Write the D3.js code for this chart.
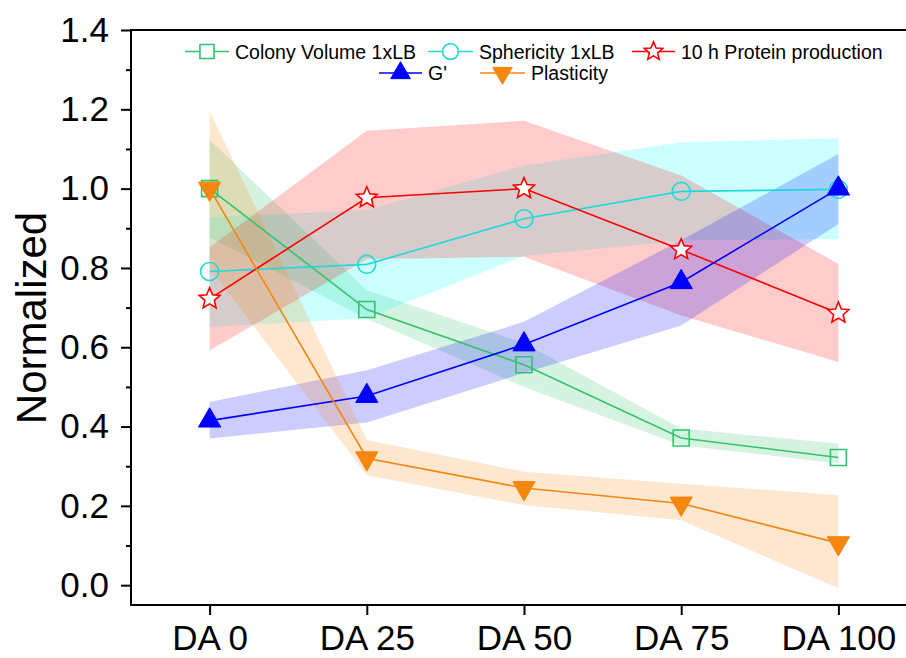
<!DOCTYPE html>
<html>
<head>
<meta charset="utf-8">
<script src="https://cdn.jsdelivr.net/npm/d3@7"></script>
<style>
  body { margin: 0; background: #fff; }
  svg { display: block; }
</style>
</head>
<body>
<script>
'use strict';

// categories and tick labels
const categories = ["DA 0", "DA 25", "DA 50", "DA 75", "DA 100"];
const yTicks = [0.0, 0.2, 0.4, 0.6, 0.8, 1.0, 1.2, 1.4];
const yMinorTicks = [0.1, 0.3, 0.5, 0.7, 0.9, 1.1, 1.3];

// Colony Volume 1xLB
const colonyMean = [1.0, 0.695, 0.556, 0.371, 0.322];
const colonyLow = [0.877, 0.672, 0.50, 0.353, 0.307];
const colonyHigh = [1.123, 0.744, 0.61, 0.395, 0.357];

// Sphericity 1xLB
const spherMean = [0.791, 0.809, 0.924, 0.993, 0.998];
const spherLow = [0.651, 0.673, 0.83, 0.869, 0.873];
const spherHigh = [0.928, 0.946, 1.058, 1.117, 1.127];

// 10 h Protein production
const proteinMean = [0.722, 0.977, 1.0, 0.846, 0.686];
const proteinLow = [0.592, 0.822, 0.828, 0.68, 0.563];
const proteinHigh = [0.852, 1.146, 1.171, 1.033, 0.81];

// G'
const gMean = [0.415, 0.477, 0.607, 0.764, 1.0];
const gLow = [0.37, 0.41, 0.535, 0.655, 0.911];
const gHigh = [0.462, 0.542, 0.664, 0.87, 1.087];

// Plasticity
const plastMean = [1.0, 0.32, 0.245, 0.206, 0.106];
const plastLow = [0.80, 0.277, 0.202, 0.164, -0.008];
const plastHigh = [1.196, 0.366, 0.286, 0.256, 0.227];

(function() {

  let svgContainer = "";

  window.onload = function() {
    svgContainer = d3.select('body')
      .append('svg')
      .attr('width', 906)
      .attr('height', 658);

    let series = [
      { name: "Colony Volume 1xLB", mean: colonyMean, low: colonyLow, high: colonyHigh,
        color: "#33c46a", band: "rgba(51,196,106,0.2)", marker: "square", fill: "none" },
      { name: "Sphericity 1xLB", mean: spherMean, low: spherLow, high: spherHigh,
        color: "#20dada", band: "rgba(0,255,255,0.2)", marker: "circle", fill: "none" },
      { name: "10 h Protein production", mean: proteinMean, low: proteinLow, high: proteinHigh,
        color: "#ff0000", band: "rgba(255,0,0,0.2)", marker: "star", fill: "#fff" },
      { name: "G'", mean: gMean, low: gLow, high: gHigh,
        color: "#0000ff", band: "rgba(0,0,255,0.2)", marker: "up", fill: "#0000ff" },
      { name: "Plasticity", mean: plastMean, low: plastLow, high: plastHigh,
        color: "#f5860f", band: "rgba(245,134,15,0.2)", marker: "down", fill: "#f5860f" }
    ];

    let scales = drawAxes();
    plotData(series, scales);
    drawFrame(scales);
    makeLegend(series);
    makeLabels();
  }

  // marker shape path for each series type
  function markerPath(type, big) {
    let k = big ? 1 : 0.88;
    if (type == "square") return d3.symbol(d3.symbolSquare, 256 * k * k)();
    if (type == "circle") return d3.symbol(d3.symbolCircle, 254 * k * k)();
    if (type == "up" || type == "down") return d3.symbol(d3.symbolTriangle, 215 * k * k)();
    // five point star
    let outer = 11 * k, inner = 5 * k;
    let pts = d3.range(10).map(function(i) {
      return [i * Math.PI / 5, i % 2 == 0 ? outer : inner];
    });
    return d3.lineRadial().curve(d3.curveLinearClosed)(pts);
  }

  function drawAxes() {
    let xScale = d3.scaleLinear()
      .domain([-0.5, 4.5])
      .range([131, 917]);

    let yScale = d3.scaleLinear()
      .domain([-0.05, 1.4])
      .range([605, 30]);

    // y axis major ticks
    let yAxis = d3.axisLeft(yScale)
      .tickValues(yTicks)
      .tickFormat(d3.format(".1f"))
      .tickSize(10)
      .tickSizeOuter(0)
      .tickPadding(12);
    let yg = svgContainer.append('g')
      .attr('transform', 'translate(131, 0)')
      .call(yAxis);
    yg.select('.domain').remove();
    yg.selectAll('line').attr('stroke', '#000').attr('stroke-width', 2);
    yg.selectAll('text')
      .style('font-family', 'Arial, "Liberation Sans", sans-serif')
      .style('font-size', '35px')
      .attr('fill', '#000');

    // y axis minor ticks
    let yMinor = d3.axisLeft(yScale)
      .tickValues(yMinorTicks)
      .tickFormat("")
      .tickSize(5)
      .tickSizeOuter(0);
    let ym = svgContainer.append('g')
      .attr('transform', 'translate(131, 0)')
      .call(yMinor);
    ym.select('.domain').remove();
    ym.selectAll('line').attr('stroke', '#000').attr('stroke-width', 2);

    // x axis
    let xAxis = d3.axisBottom(xScale)
      .tickValues(d3.range(categories.length))
      .tickFormat(function(i) { return categories[i]; })
      .tickSize(10)
      .tickSizeOuter(0)
      .tickPadding(10);
    let xg = svgContainer.append('g')
      .attr('transform', 'translate(0, 605)')
      .call(xAxis);
    xg.select('.domain').remove();
    xg.selectAll('line').attr('stroke', '#000').attr('stroke-width', 2);
    xg.selectAll('text')
      .style('font-family', 'Arial, "Liberation Sans", sans-serif')
      .style('font-size', '35px')
      .attr('fill', '#000');

    return { x: xScale, y: yScale };
  }

  function drawFrame(s) {
    svgContainer.append('rect')
      .attr('x', s.x.range()[0])
      .attr('y', s.y.range()[1])
      .attr('width', s.x.range()[1] - s.x.range()[0])
      .attr('height', s.y.range()[0] - s.y.range()[1])
      .attr('fill', 'none')
      .attr('stroke', '#000')
      .attr('stroke-width', 2);
  }

  function plotData(series, s) {
    let area = d3.area()
      .x(function(d) { return s.x(d.i); })
      .y0(function(d) { return s.y(d.low); })
      .y1(function(d) { return s.y(d.high); });

    let line = d3.line()
      .x(function(d) { return s.x(d.i); })
      .y(function(d) { return s.y(d.mean); });

    let rows = series.map(function(ser) {
      return ser.mean.map(function(m, i) {
        return { i: i, mean: m, low: ser.low[i], high: ser.high[i] };
      });
    });

    // shaded error bands first
    series.forEach(function(ser, k) {
      svgContainer.append('path')
        .datum(rows[k])
        .attr('d', area)
        .attr('fill', ser.band)
        .attr('stroke', 'none');
    });

    // lines and markers
    series.forEach(function(ser, k) {
      svgContainer.append('path')
        .datum(rows[k])
        .attr('d', line)
        .attr('fill', 'none')
        .attr('stroke', ser.color)
        .attr('stroke-width', 1.6);

      svgContainer.selectAll('.m' + k)
        .data(rows[k])
        .enter()
        .append('path')
          .attr('class', 'm' + k)
          .attr('d', markerPath(ser.marker, true))
          .attr('transform', function(d) {
            return 'translate(' + s.x(d.i) + ',' + s.y(d.mean) + ')' + (ser.marker == "down" ? 'rotate(180)' : '');
          })
          .attr('fill', ser.fill)
          .attr('stroke', ser.color)
          .attr('stroke-width', ser.marker == "up" || ser.marker == "down" ? 1 : 1.6);
    });
  }

  function makeLegend(series) {
    // legend layout: [line start, line end, row y]
    let layout = [
      [185, 229, 51.5],
      [428, 473, 51.5],
      [632, 675, 51.5],
      [379, 422, 73],
      [480, 525, 73]
    ];

    let legend = svgContainer.append('g').attr('class', 'legend');

    series.forEach(function(ser, k) {
      let p = layout[k];
      let cx = (p[0] + p[1]) / 2;
      legend.append('line')
        .attr('x1', p[0]).attr('x2', p[1])
        .attr('y1', p[2]).attr('y2', p[2])
        .attr('stroke', ser.color)
        .attr('stroke-width', 1.6);
      legend.append('path')
        .attr('d', markerPath(ser.marker, false))
        .attr('transform', 'translate(' + cx + ',' + p[2] + ')' + (ser.marker == "down" ? 'rotate(180)' : ''))
        .attr('fill', ser.fill == "none" ? "#fff" : ser.fill)
        .attr('stroke', ser.color)
        .attr('stroke-width', ser.marker == "up" || ser.marker == "down" ? 1 : 1.6);
      legend.append('text')
        .attr('x', p[1] + 6)
        .attr('y', p[2] + 7)
        .style('font-family', 'Arial, "Liberation Sans", sans-serif')
        .style('font-size', '19.5px')
        .attr('fill', '#000')
        .text(ser.name);
    });
  }

  function makeLabels() {
    svgContainer.append('text')
      .attr('transform', 'translate(46, 318)rotate(-90)')
      .attr('text-anchor', 'middle')
      .style('font-family', 'Arial, "Liberation Sans", sans-serif')
      .style('font-size', '42px')
      .attr('fill', '#000')
      .text('Normalized');
  }

})();
</script>
</body>
</html>
